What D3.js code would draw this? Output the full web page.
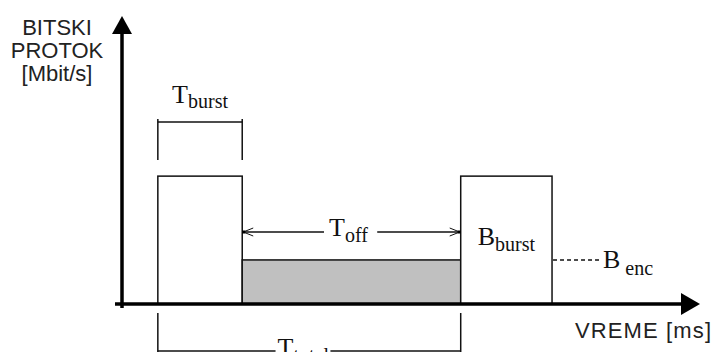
<!DOCTYPE html>
<html>
<head>
<meta charset="utf-8">
<script src="https://cdn.jsdelivr.net/npm/d3@7"></script>
<style>
  body { margin: 0; background: #fff; }
  .serif { font-family: "Liberation Serif", "DejaVu Serif", serif; fill: #111; }
  .sans { font-family: "Liberation Sans", Arial, sans-serif; fill: #222; }
</style>
</head>
<body>
<div id="chart-container"></div>
<script>
// time positions (arbitrary units along the axis) and bit rates
const segNames = ["burst1", "off", "burst2"];
const segStart = [6.2, 20.8, 58.6];
const segEnd = [20.8, 58.6, 74.4];
const segRate = [44.4, 15.3, 44.4];
const segFill = ["#fff", "#c0c0c0", "#fff"];

const yTitle = ["BITSKI", "PROTOK", "[Mbit/s]"];
const xTitle = "VREME [ms]";

const width = 714, height = 352;

const svg = d3.select("#chart-container")
  .append("svg")
  .attr("width", width)
  .attr("height", height);

const x = d3.scaleLinear().domain([0, 100]).range([122, 700]);
const y = d3.scaleLinear().domain([0, 100]).range([304, 16]);

// bars
svg.selectAll(".seg")
  .data(segNames)
  .enter()
  .append("rect")
  .attr("class", "seg")
  .attr("x", (d, i) => x(segStart[i]))
  .attr("y", (d, i) => y(segRate[i]))
  .attr("width", (d, i) => x(segEnd[i]) - x(segStart[i]))
  .attr("height", (d, i) => y(0) - y(segRate[i]))
  .attr("fill", (d, i) => segFill[i])
  .attr("stroke", "#111")
  .attr("stroke-width", 1.5);

// axes
svg.append("line")
  .attr("x1", 115).attr("x2", x(97))
  .attr("y1", y(0)).attr("y2", y(0))
  .attr("stroke", "#000").attr("stroke-width", 3.5);
svg.append("path")
  .attr("d", `M${x(100)},${y(0)} L${x(100) - 19},${y(0) - 11} L${x(100) - 19},${y(0) + 11} Z`)
  .attr("fill", "#000");

svg.append("line")
  .attr("x1", x(0)).attr("x2", x(0))
  .attr("y1", 308).attr("y2", y(97))
  .attr("stroke", "#000").attr("stroke-width", 3.5);
svg.append("path")
  .attr("d", `M${x(0)},${y(100)} L${x(0) - 10},${y(100) + 18} L${x(0) + 10},${y(100) + 18} Z`)
  .attr("fill", "#000");

// axis titles
svg.append("text")
  .attr("class", "sans")
  .attr("text-anchor", "middle")
  .style("font-size", "22px")
  .selectAll("tspan")
  .data(yTitle)
  .enter()
  .append("tspan")
  .attr("x", 57)
  .attr("y", (d, i) => 35 + i * 23)
  .text(d => d);

svg.append("text")
  .attr("class", "sans")
  .attr("x", 711)
  .attr("y", 338)
  .attr("text-anchor", "end")
  .style("font-size", "22px")
  .attr("textLength", 136)
  .text(xTitle);

// label with subscript, returns the text node
function subLabel(cx, baseline, main, sub, anchor, mainSize, subSize, dy) {
  const t = svg.append("text")
    .attr("class", "serif")
    .attr("x", cx)
    .attr("y", baseline)
    .attr("text-anchor", anchor || "middle");
  t.append("tspan").style("font-size", (mainSize || 26) + "px").text(main);
  t.append("tspan").style("font-size", (subSize || 20) + "px").attr("dy", dy || 6).text(sub);
  return t;
}

const line = (x1, y1, x2, y2, dash) => svg.append("line")
  .attr("x1", x1).attr("y1", y1).attr("x2", x2).attr("y2", y2)
  .attr("stroke", "#111").attr("stroke-width", 1.5)
  .attr("stroke-dasharray", dash || null);

// T burst bracket
const b1L = x(segStart[0]), b1R = x(segEnd[0]);
line(b1L, 119, b1L, 160);
line(b1R, 119, b1R, 160);
line(b1L, 122, b1R, 122);
subLabel((b1L + b1R) / 2, 103, "T", "burst", "middle", 26, 20, 5);

// T off arrow
const oL = x(segStart[1]), oR = x(segEnd[1]), oy = 232;
const offLab = subLabel((oL + oR) / 2 - 3, 236, "T", "off", "middle", 26, 20, 6);
const ob = offLab.node().getBBox();
line(oL, oy, ob.x - 5, oy);
line(ob.x + ob.width + 9, oy, oR, oy);
svg.append("path")
  .attr("d", `M${oL + 11},${oy - 4} L${oL + 1},${oy} L${oL + 11},${oy + 4} M${oR - 11},${oy - 4} L${oR - 1},${oy} L${oR - 11},${oy + 4}`)
  .attr("fill", "none").attr("stroke", "#111").attr("stroke-width", 1);
svg.append("rect").attr("x", oL).attr("y", oy - 1.5).attr("width", 3).attr("height", 3).attr("fill", "#000");
svg.append("rect").attr("x", oR - 3).attr("y", oy - 1.5).attr("width", 3).attr("height", 3).attr("fill", "#000");

// B burst
subLabel((x(segStart[2]) + x(segEnd[2])) / 2, 245, "B", "burst", "middle", 26, 20, 6);

// B enc
const eX = x(segEnd[2]), eY = y(segRate[1]);
line(eX + 1, eY, 600, eY, "4,3");
subLabel(603, 268, "B", "\u00a0enc", "start", 26, 20, 7);

// T total bracket
const tL = x(segStart[0]), tR = x(segEnd[1]);
line(tL, 313, tL, 352);
line(tR, 313, tR, 352);
const totLab = subLabel((tL + tR) / 2 - 6, 356, "T", "total", "middle", 26, 20, 6);
const tb = totLab.node().getBBox();
line(tL, 351, tb.x - 2, 351);
line(tb.x + tb.width + 1, 351, tR, 351);
</script>
</body>
</html>
